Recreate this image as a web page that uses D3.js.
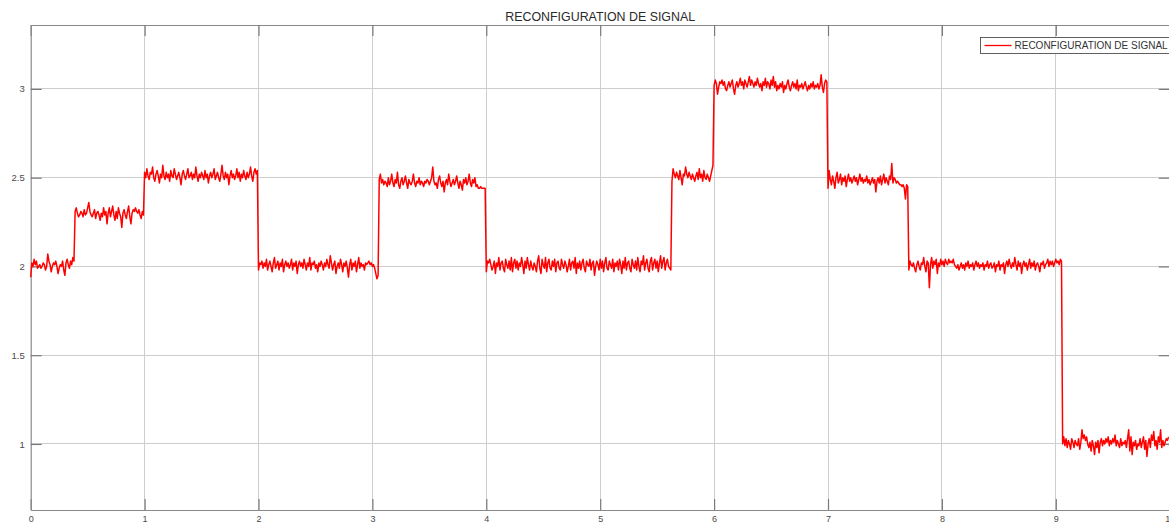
<!DOCTYPE html>
<html>
<head>
<meta charset="utf-8">
<script src="https://cdn.jsdelivr.net/npm/d3@7"></script>
<style>
  html, body { margin: 0; padding: 0; background: #fff; overflow: hidden; }
  svg { display: block; font-family: "Liberation Sans", Arial, Helvetica, sans-serif; }
</style>
</head>
<body>
<svg id="chart" width="1169" height="524"></svg>
<script>
// Signal sampled every 0.01 s; each segment starts at the listed time.
const chartTitle = "RECONFIGURATION DE SIGNAL";
const seriesName = "RECONFIGURATION DE SIGNAL";
const sampleStep = 0.01;
const xTicks = [0, 1, 2, 3, 4, 5, 6, 7, 8, 9, 10];
const yTicks = [1, 1.5, 2, 2.5, 3];
const segmentStarts = [0, 0.39, 1.0, 2.0, 3.06, 4.0, 5.63, 6.0, 7.0, 7.71, 9.06];

const seg0 = [1.94,2.02,2.00,2.04,2.01,2.03,1.99,2.00,2.01,1.99,
  2.00,2.02,2.01,1.98,2.00,2.07,2.03,2.01,1.97,2.00,
  2.02,2.01,2.03,2.00,1.96,1.99,2.01,2.00,2.03,1.98,
  1.95,2.02,2.04,2.01,1.99,2.03,2.01,2.05,2.03];
const seg1 = [2.31,2.33,2.30,2.28,2.29,2.31,2.30,2.28,2.32,2.29,
  2.30,2.33,2.36,2.31,2.29,2.28,2.30,2.32,2.27,2.30,
  2.31,2.29,2.26,2.30,2.28,2.33,2.29,2.31,2.24,2.30,
  2.33,2.28,2.31,2.34,2.29,2.26,2.31,2.27,2.33,2.30,
  2.28,2.22,2.30,2.32,2.29,2.27,2.31,2.34,2.28,2.24,
  2.30,2.32,2.31,2.33,2.31,2.30,2.32,2.29,2.27,2.31,
  2.29];
const seg2 = [2.53,2.50,2.55,2.51,2.49,2.53,2.52,2.56,2.50,2.48,
  2.52,2.54,2.51,2.47,2.52,2.50,2.57,2.51,2.49,2.53,
  2.50,2.52,2.48,2.54,2.51,2.50,2.55,2.52,2.49,2.51,
  2.53,2.50,2.46,2.52,2.54,2.51,2.49,2.52,2.55,2.50,
  2.51,2.53,2.49,2.52,2.50,2.56,2.51,2.48,2.52,2.50,
  2.53,2.51,2.49,2.54,2.50,2.52,2.47,2.51,2.53,2.50,
  2.52,2.55,2.49,2.51,2.53,2.50,2.48,2.52,2.57,2.51,
  2.49,2.53,2.50,2.52,2.46,2.51,2.54,2.50,2.52,2.49,
  2.51,2.55,2.50,2.53,2.48,2.52,2.50,2.54,2.51,2.49,
  2.53,2.50,2.52,2.56,2.51,2.48,2.53,2.55,2.52,2.54];
const seg3 = [1.98,2.02,2.01,2.03,1.99,2.02,2.00,2.04,1.98,2.01,
  2.03,2.00,1.97,2.02,2.05,1.99,2.01,2.03,1.98,2.02,
  2.00,2.04,1.97,2.01,2.03,2.00,2.02,1.99,2.01,2.04,
  1.98,2.02,2.00,2.03,1.96,2.01,2.03,2.00,2.02,1.99,
  2.04,2.01,1.98,2.02,2.00,2.05,1.98,2.02,2.01,2.03,
  1.99,2.01,1.97,2.02,2.00,2.03,2.01,1.98,2.02,2.00,
  2.04,2.01,1.99,2.06,2.02,1.98,2.01,2.03,1.96,2.00,
  2.02,1.99,2.04,2.01,1.97,2.02,2.00,2.03,1.99,1.94,
  2.01,2.04,1.98,2.02,2.00,2.03,1.97,2.01,2.05,1.99,
  2.02,2.00,2.01,1.98,2.02,2.01,2.02,2.03,2.01,2.02,
  2.00,2.01,1.99,1.96,1.93,1.95];
const seg4 = [2.49,2.52,2.47,2.49,2.46,2.48,2.47,2.45,2.50,2.46,
  2.48,2.52,2.47,2.45,2.49,2.47,2.53,2.46,2.44,2.48,
  2.50,2.46,2.48,2.51,2.47,2.44,2.49,2.47,2.46,2.48,
  2.52,2.47,2.45,2.48,2.47,2.50,2.46,2.48,2.47,2.45,
  2.48,2.47,2.49,2.48,2.46,2.48,2.50,2.56,2.48,2.46,
  2.47,2.44,2.49,2.51,2.47,2.45,2.48,2.42,2.47,2.49,
  2.46,2.52,2.48,2.45,2.47,2.49,2.46,2.48,2.51,2.47,
  2.44,2.48,2.46,2.43,2.49,2.47,2.50,2.46,2.48,2.52,
  2.47,2.45,2.49,2.47,2.50,2.45,2.46,2.44,2.44,2.45,
  2.44,2.44,2.44,2.44];
const seg5 = [1.97,2.03,2.02,2.04,2.01,1.98,2.00,2.03,1.96,2.02,
  2.00,2.05,1.98,2.02,2.03,1.99,1.97,2.04,2.01,1.99,
  2.03,1.98,2.05,1.97,2.02,2.04,1.99,2.03,1.98,2.02,
  2.00,2.05,2.01,1.96,2.03,1.99,2.05,2.01,1.98,2.03,
  2.00,1.98,2.02,2.00,1.97,2.03,2.06,1.99,1.96,2.04,
  2.01,1.99,2.05,1.97,2.02,2.04,1.99,1.98,2.03,2.00,
  2.04,1.97,2.02,2.03,1.99,1.98,2.04,2.01,1.99,2.03,
  2.01,1.97,2.00,2.04,1.98,2.02,2.03,1.99,2.05,1.96,
  2.02,1.99,2.03,1.98,2.02,2.04,1.99,1.97,2.03,2.01,
  2.00,2.04,1.98,2.02,2.03,1.95,2.00,2.03,2.01,1.98,
  2.04,1.99,2.03,1.97,2.02,2.05,1.99,1.98,2.03,2.01,
  1.99,2.04,1.97,2.02,2.00,2.03,1.98,2.04,2.01,1.96,
  2.03,1.99,2.05,1.98,2.02,2.03,1.99,1.97,2.04,2.01,
  1.99,2.03,1.98,2.05,2.00,1.97,2.03,2.01,2.06,1.98,
  2.02,2.04,1.99,1.97,2.03,2.05,1.98,2.02,2.04,1.99,
  2.03,1.97,2.02,2.06,1.99,2.03,2.05,1.98,2.02,2.04,
  2.00,1.99,1.98];
const seg6 = [2.48,2.55,2.52,2.50,2.53,2.51,2.49,2.54,2.50,2.46,
  2.52,2.51,2.56,2.52,2.50,2.53,2.51,2.49,2.52,2.50,
  2.48,2.51,2.53,2.49,2.55,2.50,2.52,2.48,2.54,2.50,
  2.49,2.52,2.50,2.48,2.51,2.54,2.57];
const seg7 = [3.02,3.05,3.03,2.97,3.01,3.04,3.03,3.05,3.02,3.04,
  3.00,2.99,3.02,3.04,3.01,3.03,3.05,3.00,2.97,3.02,
  3.04,3.01,3.03,3.06,3.02,3.04,3.00,3.05,3.03,3.01,
  3.04,3.07,3.02,3.05,3.03,3.01,3.04,3.02,3.06,3.03,
  3.01,3.03,2.99,3.04,3.02,3.06,3.01,3.04,3.03,3.00,
  3.05,3.02,3.07,3.01,3.04,2.99,3.02,3.00,3.03,3.01,
  3.04,2.98,3.02,3.00,3.03,3.05,3.01,2.99,3.02,3.04,
  3.01,3.03,3.00,3.05,2.99,3.02,3.01,3.03,3.00,3.02,
  3.04,3.01,2.99,3.02,3.00,3.03,3.01,3.04,3.00,3.02,
  3.01,3.03,3.00,3.02,3.08,3.01,2.98,3.03,3.05,3.04];
const seg8 = [2.44,2.54,2.49,2.46,2.51,2.48,2.44,2.50,2.53,2.47,
  2.49,2.52,2.46,2.50,2.48,2.51,2.45,2.49,2.52,2.48,
  2.50,2.47,2.49,2.51,2.48,2.50,2.46,2.49,2.52,2.48,
  2.50,2.47,2.49,2.48,2.51,2.47,2.49,2.46,2.48,2.50,
  2.47,2.49,2.42,2.48,2.50,2.47,2.51,2.46,2.49,2.52,
  2.47,2.50,2.48,2.46,2.51,2.49,2.58,2.47,2.50,2.49,
  2.47,2.48,2.47,2.46,2.46,2.45,2.46,2.44,2.38,2.46,
  2.45];
const seg9 = [1.98,2.03,2.01,2.00,2.02,1.99,1.97,2.01,2.03,2.00,
  1.98,2.02,2.01,2.05,2.00,1.97,2.03,2.02,1.88,2.01,
  2.05,1.99,2.03,2.01,2.04,1.96,2.02,2.00,2.04,2.01,
  2.03,2.00,2.04,2.02,2.01,2.04,2.02,2.03,2.02,2.04,
  2.01,2.00,1.99,2.01,1.98,2.00,2.02,1.99,2.01,1.98,
  2.02,2.00,2.03,1.99,2.01,2.00,2.02,1.98,2.01,2.03,
  2.00,2.02,1.99,2.01,2.00,2.02,1.98,2.01,2.00,2.03,
  1.99,2.01,2.02,1.99,2.00,2.02,1.97,2.01,2.00,2.03,
  1.98,2.01,2.00,2.02,1.96,2.01,2.03,2.00,2.04,2.01,
  1.99,2.02,2.00,2.05,2.01,1.98,2.03,2.00,2.02,1.96,
  2.01,2.03,2.00,2.02,1.98,2.01,2.04,1.99,2.02,2.00,
  2.03,1.98,2.01,2.02,2.00,1.97,2.02,2.01,2.03,1.99,
  2.01,2.02,2.04,2.00,2.03,2.01,2.03,2.00,2.02,2.04,
  2.02,2.03,2.01,2.04,2.03];
const seg10 = [1.00,1.04,0.99,1.03,0.98,1.02,1.00,0.97,1.03,1.01,
  0.98,1.02,1.00,0.99,1.03,0.97,1.01,1.08,1.03,1.05,
  1.02,1.04,1.00,0.98,1.01,0.96,1.02,0.99,0.94,1.01,
  0.98,1.02,0.95,1.01,1.03,0.99,1.02,1.00,1.03,1.01,
  1.04,0.99,1.02,1.00,1.03,1.01,1.05,0.99,1.02,1.00,
  0.98,1.03,0.99,1.01,1.00,1.02,0.98,1.03,1.08,0.96,
  1.04,0.94,1.01,0.99,1.02,0.97,1.00,0.99,1.03,0.98,
  1.01,1.04,0.97,1.02,0.93,1.00,1.03,0.98,1.05,1.02,
  1.07,0.99,1.02,0.97,1.04,1.01,1.08,0.98,1.02,0.99,
  1.01,1.03,1.02,1.04];

const segments = [seg0, seg1, seg2, seg3, seg4, seg5, seg6, seg7, seg8, seg9, seg10];

// Flatten into (t, value) samples
const samples = [];
segments.forEach((seg, s) => {
  const end = s + 1 < segmentStarts.length ? segmentStarts[s + 1] : 10;
  seg.forEach((v, k) => {
    const t = segmentStarts[s] + k * sampleStep;
    if (t < end - 1e-9) samples.push({ t, v });
  });
});

const W = 1169, H = 524;
const plot = { left: 30.7, right: 1169.7, top: 25, bottom: 510 };

const x = d3.scaleLinear().domain([0, 10]).range([plot.left, plot.right]);
const y = d3.scaleLinear().domain([0.628, 3.36]).range([plot.bottom, plot.top]);

const svg = d3.select("#chart");
svg.append("rect").attr("width", W).attr("height", H).attr("fill", "#fff");

const axisColor = "#8a8a8a";
const gridColor = "#cdcdcd";
const textColor = "#4a4a4a";
const tickLen = 11;

// Grid
const grid = svg.append("g");
grid.selectAll("line.vx").data(xTicks.filter(d => d > 0 && d < 10)).join("line")
  .attr("x1", d => x(d)).attr("x2", d => x(d))
  .attr("y1", plot.top).attr("y2", plot.bottom)
  .attr("stroke", gridColor).attr("stroke-width", 1).attr("shape-rendering", "crispEdges");
grid.selectAll("line.hy").data(yTicks).join("line")
  .attr("x1", plot.left).attr("x2", plot.right)
  .attr("y1", d => y(d)).attr("y2", d => y(d))
  .attr("stroke", gridColor).attr("stroke-width", 1).attr("shape-rendering", "crispEdges");

// Axes drawn with d3 axes, inward ticks (box style)
const xBottom = d3.axisBottom(x).tickValues(xTicks).tickSizeInner(-tickLen).tickSizeOuter(0).tickFormat(d3.format("d"));
const xTop = d3.axisTop(x).tickValues(xTicks).tickSizeInner(-tickLen).tickSizeOuter(0).tickFormat("");
const yLeft = d3.axisLeft(y).tickValues(yTicks).tickSizeInner(-tickLen).tickSizeOuter(0).tickFormat(d3.format("~g"));
const yRight = d3.axisRight(y).tickValues(yTicks).tickSizeInner(-tickLen).tickSizeOuter(0).tickFormat("");

function styleAxis(g) {
  g.select(".domain").attr("stroke", axisColor).attr("stroke-width", 1.2);
  g.selectAll(".tick line").attr("stroke", "#7a7a7a").attr("stroke-width", 1.2);
  g.selectAll(".tick text").attr("fill", textColor).attr("font-size", 9.5)
    .attr("font-family", "'Liberation Sans', Arial, sans-serif");
}

const gxb = svg.append("g").attr("transform", `translate(0,${plot.bottom})`).call(xBottom).call(styleAxis);
gxb.selectAll(".tick text").attr("dy", null).attr("y", 11.8).attr("font-size", 9);
svg.append("g").attr("transform", `translate(0,${plot.top})`).call(xTop).call(styleAxis);
const gyl = svg.append("g").attr("transform", `translate(${plot.left},0)`).call(yLeft).call(styleAxis);
gyl.selectAll(".tick text").attr("x", -6);
svg.append("g").attr("transform", `translate(${plot.right},0)`).call(yRight).call(styleAxis);

// Signal trace
const line = d3.line().x(d => x(d.t)).y(d => y(d.v));
svg.append("path").datum(samples)
  .attr("d", line).attr("fill", "none")
  .attr("stroke", "#ff0000").attr("stroke-width", 1.5).attr("stroke-linejoin", "round");

// Title
svg.append("text").attr("x", (plot.left + plot.right) / 2).attr("y", 20.5)
  .attr("text-anchor", "middle").attr("font-size", 12.4).attr("fill", "#2a2a2a")
  .text(chartTitle);

// Legend
const lg = svg.append("g").attr("transform", "translate(980.5,37.5)");
lg.append("rect").attr("width", 200).attr("height", 16)
  .attr("fill", "#fff").attr("stroke", "#3a3a3a").attr("stroke-width", 0.8);
lg.append("line").attr("x1", 4).attr("x2", 31).attr("y1", 8).attr("y2", 8)
  .attr("stroke", "#ff0000").attr("stroke-width", 1.3);
lg.append("text").attr("x", 34).attr("y", 11.8).attr("font-size", 10).attr("fill", "#333")
  .text(seriesName);
</script>
</body>
</html>
